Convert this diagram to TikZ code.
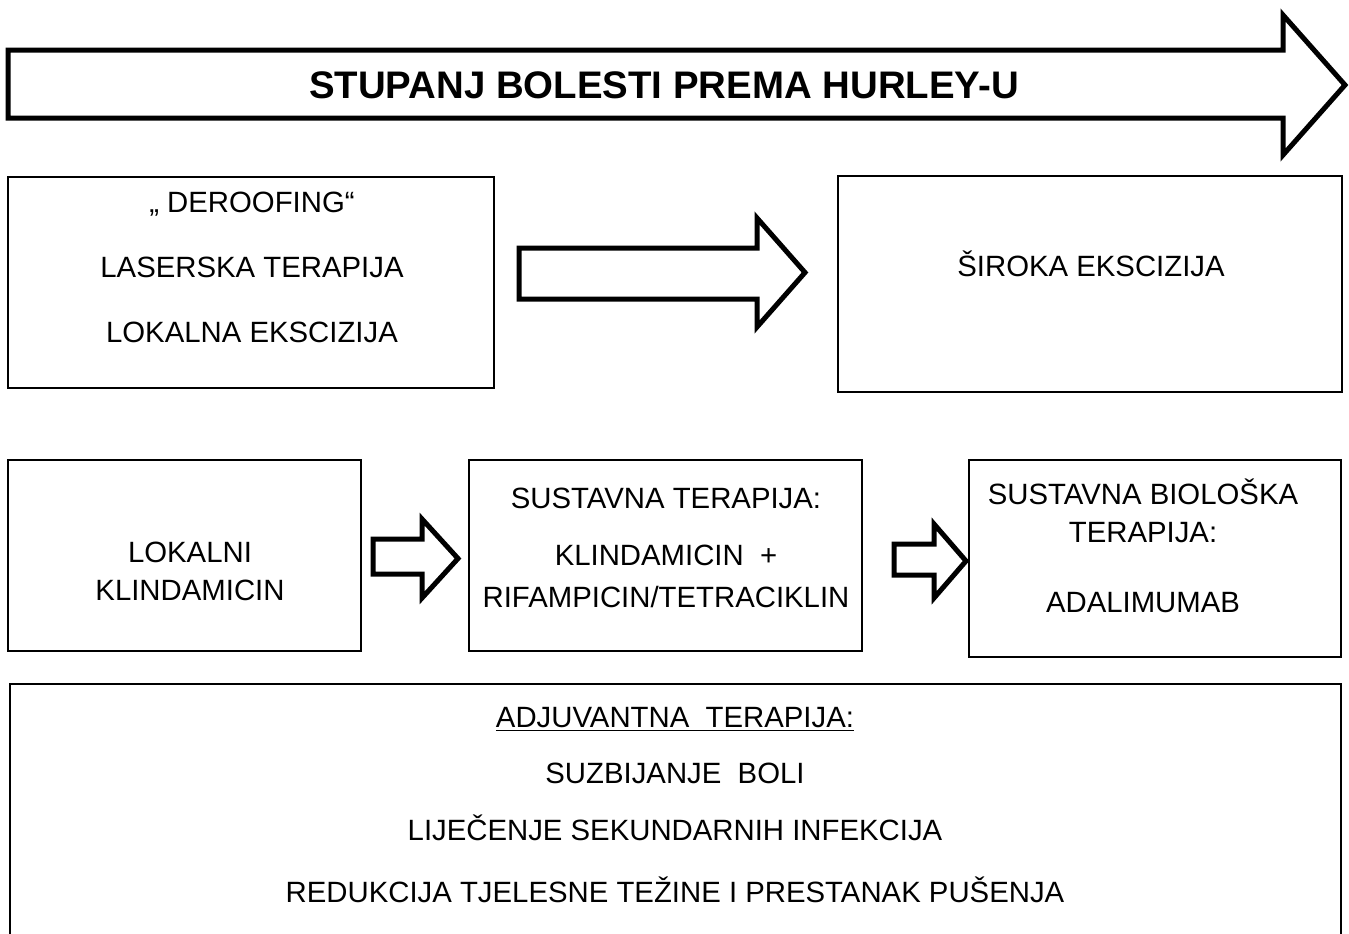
\documentclass[tikz,border=0pt]{standalone}
\usepackage{fontspec}
\setmainfont{Liberation Sans}

\begin{document}
\begin{tikzpicture}[
    x=0.75pt, y=-0.75pt,
    box/.style={rectangle, draw=black, line width=1.2pt, inner sep=0pt},
    boxtext/.style={align=center, inner sep=0pt, font=\fontsize{22}{28.5}\selectfont},
    headline/.style={inner sep=0pt, font=\fontsize{28.8}{34}\selectfont\bfseries},
    blockarrow/.style={draw=black, fill=white, line width=3.75pt, line join=miter}
    ]
    \useasboundingbox (0,0) rectangle (1349,933);

    % Velika strelica - stupanj bolesti
    \draw[blockarrow] (8,50) -- (1283,50) -- (1283,15) -- (1345,85) -- (1283,155) -- (1283,118) -- (8,118) -- cycle;
    \node[headline] (stupanj) at (664,85) {STUPANJ BOLESTI PREMA HURLEY-U};

    % Kirurško liječenje
    \node[box, minimum width=364.5pt, minimum height=158.25pt] (deroof) at (251,282.5) {};
    \node[boxtext] (deroof_t) at (252,267) {„ DEROOFING“\\[20.25pt] LASERSKA TERAPIJA\\[20.25pt] LOKALNA EKSCIZIJA};
    \node[box, minimum width=378pt, minimum height=162pt] (siroka) at (1090,284) {};
    \node[boxtext] (siroka_t) at (1091,264) {ŠIROKA EKSCIZIJA};
    \draw[blockarrow] (519,248) -- (757,248) -- (757,218) -- (805,272.5) -- (757,327) -- (757,299) -- (519,299) -- cycle;

    % Medikamentozno liječenje
    \node[box, minimum width=264.75pt, minimum height=143.25pt] (lokalni) at (184.5,555.5) {};
    \node[boxtext] (lokalni_t) at (190,571) {LOKALNI\\ KLINDAMICIN};
    \node[box, minimum width=294.75pt, minimum height=143.25pt] (sustavna) at (665.5,555.5) {};
    \node[boxtext] (sustavna_t) at (666,547.5) {SUSTAVNA TERAPIJA:\\[14.25pt] KLINDAMICIN\ \ +\\[3pt] RIFAMPICIN/TETRACIKLIN};
    \node[box, minimum width=279pt, minimum height=147.75pt] (bioloska) at (1155,558.5) {};
    \node[boxtext] (bioloska_t) at (1143,546) {SUSTAVNA BIOLOŠKA\\ TERAPIJA:\\[24pt] ADALIMUMAB};
    \draw[blockarrow] (373,539) -- (422,539) -- (422,519) -- (458,558.5) -- (422,598) -- (422,574) -- (373,574) -- cycle;
    \draw[blockarrow] (894,544) -- (934,544) -- (934,524) -- (966,561) -- (934,598) -- (934,575) -- (894,575) -- cycle;

    % Adjuvantna terapija
    \node[box, anchor=north, minimum width=998.25pt, minimum height=200pt] (adjuvant) at (675.5,683) {};
    \node[boxtext] (adjuvant_t) at (675,805.5) {\underline{ADJUVANTNA\ \ TERAPIJA:}\\[13.5pt] SUZBIJANJE\ \ BOLI\\[14.25pt] LIJEČENJE SEKUNDARNIH INFEKCIJA\\[18pt] REDUKCIJA TJELESNE TEŽINE I PRESTANAK PUŠENJA};
\end{tikzpicture}
\end{document}
